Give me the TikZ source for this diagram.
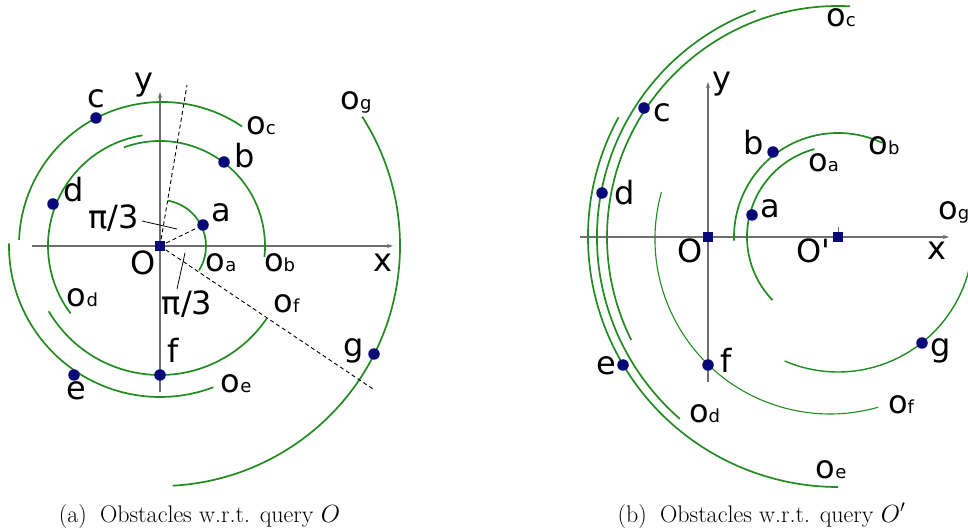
\documentclass[tikz,border=0pt]{standalone}
\usepackage{fontspec}
\newfontfamily\labfont{DejaVu Sans}
\usetikzlibrary{arrows.meta}
\definecolor{arcg}{RGB}{34,139,34}
\definecolor{ptc}{RGB}{8,8,120}
\definecolor{axc}{RGB}{110,110,110}
\newcommand{\Lb}[1]{{\labfont\fontsize{32}{32}\selectfont #1}}
\newcommand{\Ob}[1]{{\labfont\fontsize{32}{32}\selectfont o\fontsize{18}{18}\selectfont #1}}
\begin{document}
\begin{tikzpicture}[x=1pt,y=1pt,
  arcl/.style={draw=arcg,line width=1.7pt},
  arcthin/.style={draw=arcg,line width=1.1pt},
  axis/.style={draw=axc,line width=1.1pt},
  axisarrow/.style={axis,-{Stealth[length=6pt,width=4pt]}},
  pt/.style={circle,fill=ptc,inner sep=0pt,minimum size=11.5pt},
  sq/.style={rectangle,fill=ptc,inner sep=0pt,minimum size=10pt},
  dsh/.style={draw=black,line width=0.9pt,dash pattern=on 4pt off 3pt},
  ptr/.style={draw=black,line width=0.8pt},
  lab/.style={anchor=base,inner sep=0pt}]
\useasboundingbox (0,0) rectangle (968,530);

% ---------------- (a) ----------------
\coordinate (OL) at (160,284);
\coordinate (OLc) at (162,285);
\coordinate (xl0) at (32,284);
\coordinate (xl1) at (393,284);
\coordinate (yl0) at (160,138);
\coordinate (yl1) at (160,438);
\draw[axisarrow] (xl0) -- (xl1);
\draw[axisarrow] (yl0) -- (yl1);

% arcs
\draw[arcl] (OL) ++(80:46) arc[start angle=80,end angle=-32,radius=46];
\draw[arcl] (OL) ++(110:105) arc[start angle=110,end angle=-6,radius=105];
\draw[arcl] (OLc) ++(56:143) arc[start angle=56,end angle=178,radius=143];
\draw[arcl] (OL) ++(99:112) arc[start angle=99,end angle=217,radius=112];
\draw[arcl] (OL) ++(179:151) arc[start angle=179,end angle=290.7,radius=151];
\draw[arcl] (OL) ++(210.4:129) arc[start angle=210.4,end angle=326,radius=129];
\draw[arcl] (OL) ++(32.6:240) arc[start angle=32.6,end angle=-87,radius=240];

% dashed lines
\coordinate (dl1) at (187,445);
\coordinate (dl2) at (373,141);
\node[pt] (la) at (203,305) {};
\draw[dsh] (OL) -- (dl1);
\draw[dsh] (OL) -- (la);
\draw[dsh] (OL) -- (dl2);

% pi/3 pointers
\coordinate (p1a) at (142,309);
\coordinate (p1b) at (177,301);
\coordinate (p2a) at (185,277);
\coordinate (p2b) at (177,241);
\draw[ptr] (p1a) -- (p1b);
\draw[ptr] (p2a) -- (p2b);

\node[sq] (LO) at (OL) {};
\node[pt] (lb) at (224,368) {};
\node[pt] (lc) at (96,412) {};
\node[pt] (ld) at (53,326) {};
\node[pt] (le) at (74,155) {};
\node[pt] (lf) at (160,155) {};
\node[pt] (lg) at (374,176) {};

\node[lab] (tly) at (144,439) {\Lb{y}};
\node[lab] (tlc) at (96,422) {\Lb{c}};
\node[lab] (tloc) at (261,395) {\Ob{c}};
\node[lab] (tlb) at (245,362) {\Lb{b}};
\node[lab] (tld) at (74,328) {\Lb{d}};
\node[lab] (tla) at (221,308) {\Lb{a}};
\node[lab] (tlp1) at (113.5,301) {\Lb{π/3}};
\node[lab] (tlO) at (143.5,255) {\Lb{O}};
\node[lab] (tloa) at (221,258) {\Ob{a}};
\node[lab] (tlob) at (279.5,258) {\Ob{b}};
\node[lab] (tlx) at (383,258) {\Lb{x}};
\node[lab] (tlog) at (356,420) {\Ob{g}};
\node[lab] (tlod) at (82.5,223) {\Ob{d}};
\node[lab] (tlp2) at (187,215) {\Lb{π/3}};
\node[lab] (tlof) at (286.5,217) {\Ob{f}};
\node[lab] (tlf) at (173.5,167) {\Lb{f}};
\node[lab] (tlg) at (354,173) {\Lb{g}};
\node[lab] (tle) at (76,130) {\Lb{e}};
\node[lab] (tloe) at (236,137) {\Ob{e}};

\node[lab] (capa) at (199.5,8) {\fontsize{24}{24}\selectfont (a)\hspace{0.55em}Obstacles w.r.t. query $O$};

% ---------------- (b) ----------------
\coordinate (OR) at (708,293);
\coordinate (OP) at (838,293);
\coordinate (OF) at (830,291);
\coordinate (xr0) at (580,293);
\coordinate (xr1) at (949,293);
\coordinate (yr0) at (708,148);
\coordinate (yr1) at (708,448);
\coordinate (tk) at (838,303);
\draw[axisarrow] (xr0) -- (xr1);
\draw[axisarrow] (yr0) -- (yr1);
\draw[axis,line width=0.8pt] (OP) -- (tk);

\draw[arcl] (OP) ++(105:91) arc[start angle=105,end angle=224,radius=91];
\draw[arcl] (OP) ++(65:104) arc[start angle=65,end angle=182,radius=104];
\draw[arcl] (OP) ++(87:231) arc[start angle=87,end angle=206.5,radius=231];
\draw[arcl] (OP) ++(110:241) arc[start angle=110,end angle=229,radius=241];
\draw[arcl] (OP) ++(151.4:250) arc[start angle=151.4,end angle=270,radius=250];
\draw[arcthin] (OF) ++(164.5:175) arc[start angle=164.5,end angle=286,radius=175];
\draw[arcl,line width=1.4pt] (OP) ++(246.7:135) arc[start angle=246.7,end angle=360,radius=135];

\node[sq] (RO) at (OR) {};
\node[sq] (ROp) at (OP) {};
\node[pt] (ra) at (752,315) {};
\node[pt] (rb) at (773,378) {};
\node[pt] (rc) at (644,422) {};
\node[pt] (rd) at (602,337) {};
\node[pt] (re) at (623,165) {};
\node[pt] (rf) at (708,165) {};
\node[pt] (rg) at (922,187) {};

\node[lab] (troc) at (841,503) {\Ob{c}};
\node[lab] (try) at (721.5,440) {\Lb{y}};
\node[lab] (trc) at (662.5,408) {\Lb{c}};
\node[lab] (trb) at (754,375) {\Lb{b}};
\node[lab] (trob) at (884,375) {\Ob{b}};
\node[lab] (troa) at (823.5,358) {\Ob{a}};
\node[lab] (trd) at (625,325) {\Lb{d}};
\node[lab] (tra) at (770,312) {\Lb{a}};
\node[lab,anchor=base west] (trog) at (938,310) {\Ob{g}};
\node[lab] (trO) at (690,267) {\Lb{O}};
\node[lab] (trOp) at (813.5,267) {\Lb{O\textquotesingle}};
\node[lab] (trx) at (936.5,270) {\Lb{x}};
\node[lab] (tre) at (606,155) {\Lb{e}};
\node[lab] (trf) at (726.5,157) {\Lb{f}};
\node[lab] (trg) at (941,173) {\Lb{g}};
\node[lab] (trod) at (704.5,107) {\Ob{d}};
\node[lab] (trof) at (901,117) {\Ob{f}};
\node[lab] (troe) at (831,52) {\Ob{e}};

\node[lab] (capb) at (761.5,8) {\fontsize{24}{24}\selectfont (b)\hspace{0.55em}Obstacles w.r.t. query $O'$};
\end{tikzpicture}
\end{document}
